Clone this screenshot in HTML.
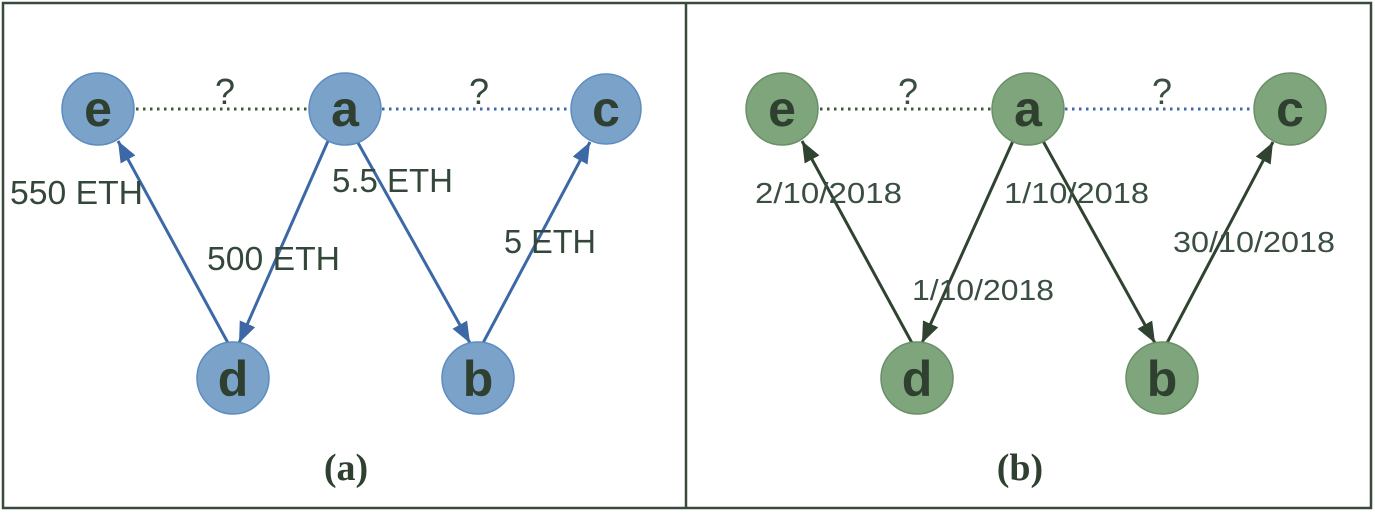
<!DOCTYPE html>
<html><head><meta charset="utf-8"><style>
html,body{margin:0;padding:0;background:#fff;}
svg{display:block;}
</style></head><body>
<svg width="1375" height="513" viewBox="0 0 1375 513" xmlns="http://www.w3.org/2000/svg">
<defs>
<marker id="ab" viewBox="0 0 10 10" refX="10" refY="5" markerWidth="7" markerHeight="7" orient="auto" markerUnits="strokeWidth"><path d="M0,1 L10,5 L0,9 z" fill="#3c68a6"/></marker>
<marker id="ag" viewBox="0 0 10 10" refX="10" refY="5" markerWidth="7" markerHeight="7" orient="auto" markerUnits="strokeWidth"><path d="M0,1 L10,5 L0,9 z" fill="#304230"/></marker>
</defs>
<rect x="3" y="3" width="1368" height="505" fill="none" stroke="#3a4a3a" stroke-width="2.5"/>
<line x1="686" y1="3" x2="686" y2="508" stroke="#3a4a3a" stroke-width="2.5"/>

<!-- (a) -->
<line x1="136" y1="109" x2="308" y2="109" stroke="#3d5a3d" stroke-width="3" stroke-dasharray="2.5,4.5"/>
<line x1="382" y1="109" x2="570" y2="109" stroke="#3c68a6" stroke-width="3" stroke-dasharray="2.5,4.5"/>
<g stroke="#3c68a6" stroke-width="3" fill="none">
<line x1="228" y1="343" x2="118" y2="141" marker-end="url(#ab)"/>
<line x1="328" y1="141" x2="239" y2="343" marker-end="url(#ab)"/>
<line x1="357" y1="141" x2="470" y2="343" marker-end="url(#ab)"/>
<line x1="483" y1="343" x2="590" y2="142" marker-end="url(#ab)"/>
</g>
<g fill="#7ba2c8" stroke="#5d8cc2" stroke-width="1.5">
<circle cx="98" cy="109" r="36"/><circle cx="345" cy="109" r="36"/><circle cx="606" cy="109" r="35"/>
<circle cx="233" cy="378" r="36"/><circle cx="478" cy="378" r="36"/>
</g>
<g font-family="Liberation Sans, sans-serif" font-weight="bold" font-size="50" fill="#2f3f30" text-anchor="middle">
<text x="98" y="126">e</text><text x="345" y="126">a</text><text x="606" y="126">c</text>
<text x="233" y="396">d</text><text x="478" y="396">b</text>
</g>
<g font-family="Liberation Sans, sans-serif" font-size="33" fill="#34473a">
<text x="215" y="104" font-size="36">?</text><text x="469" y="104" font-size="36">?</text>
<text x="10" y="204" textLength="133" lengthAdjust="spacingAndGlyphs">550 ETH</text>
<text x="207" y="270" textLength="133" lengthAdjust="spacingAndGlyphs">500 ETH</text>
<text x="332" y="192" textLength="121" lengthAdjust="spacingAndGlyphs">5.5 ETH</text>
<text x="504" y="253" textLength="92" lengthAdjust="spacingAndGlyphs">5 ETH</text>
</g>

<!-- (b) -->
<line x1="820" y1="109" x2="992" y2="109" stroke="#3d5a3d" stroke-width="3" stroke-dasharray="2.5,4.5"/>
<line x1="1065" y1="109" x2="1254" y2="109" stroke="#3c68a6" stroke-width="3" stroke-dasharray="2.5,4.5"/>
<g stroke="#304230" stroke-width="3" fill="none">
<line x1="912" y1="343" x2="802" y2="141" marker-end="url(#ag)"/>
<line x1="1013" y1="141" x2="922" y2="343" marker-end="url(#ag)"/>
<line x1="1043" y1="141" x2="1155" y2="343" marker-end="url(#ag)"/>
<line x1="1167" y1="343" x2="1273" y2="142" marker-end="url(#ag)"/>
</g>
<g fill="#7ea57b" stroke="#6b8f68" stroke-width="1.5">
<circle cx="782" cy="109" r="36"/><circle cx="1028" cy="109" r="36"/><circle cx="1290" cy="109" r="36"/>
<circle cx="917" cy="378" r="36"/><circle cx="1162" cy="378" r="36"/>
</g>
<g font-family="Liberation Sans, sans-serif" font-weight="bold" font-size="50" fill="#2f3f30" text-anchor="middle">
<text x="782" y="126">e</text><text x="1028" y="126">a</text><text x="1290" y="126">c</text>
<text x="917" y="396">d</text><text x="1162" y="396">b</text>
</g>
<g font-family="Liberation Sans, sans-serif" font-size="29" fill="#3a4f42">
<text x="898" y="104" font-size="36">?</text><text x="1152" y="104" font-size="36">?</text>
<text x="755" y="203" textLength="147" lengthAdjust="spacingAndGlyphs">2/10/2018</text>
<text x="1004" y="203" textLength="145" lengthAdjust="spacingAndGlyphs">1/10/2018</text>
<text x="1173" y="252" textLength="162" lengthAdjust="spacingAndGlyphs">30/10/2018</text>
<text x="912" y="300" textLength="142" lengthAdjust="spacingAndGlyphs">1/10/2018</text>
</g>

<g font-family="Liberation Serif, serif" font-weight="bold" font-size="38" fill="#2f3f30" text-anchor="middle">
<text x="346" y="480">(a)</text>
<text x="1020" y="480">(b)</text>
</g>
</svg>
</body></html>
